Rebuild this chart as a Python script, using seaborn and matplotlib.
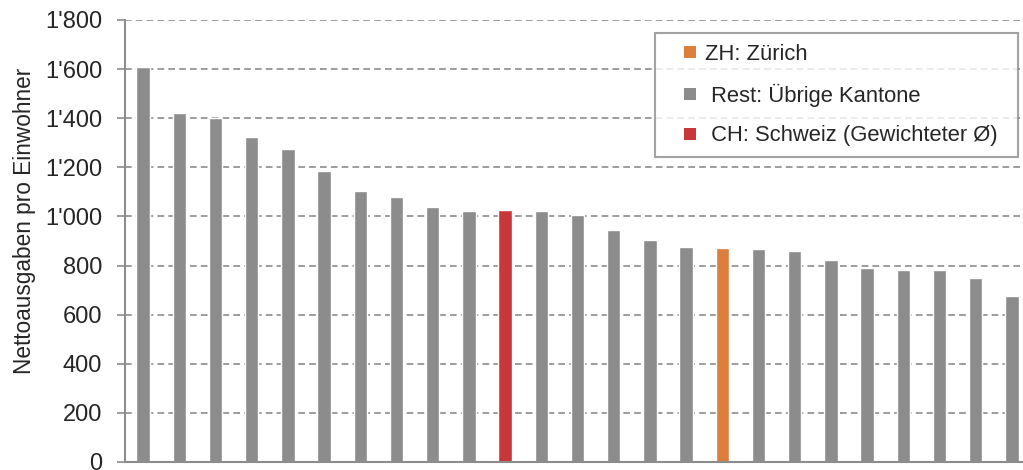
import numpy as np
import pandas as pd
import matplotlib
matplotlib.use("Agg")
import matplotlib.pyplot as plt
from matplotlib.lines import Line2D
from matplotlib.ticker import FuncFormatter
import seaborn as sns

sns.set_theme(style="white")
plt.rcParams['font.family'] = ['Liberation Sans', 'DejaVu Sans']

# Nettoausgaben pro Einwohner, sortiert
werte = [1607, 1420, 1402, 1325, 1275, 1186, 1105, 1080, 1040, 1023,
         1026, 1023, 1007, 944, 903, 877, 870, 869, 861, 821,
         789, 781, 780, 748, 676]
gruppe = ['Rest'] * 10 + ['CH'] + ['Rest'] * 5 + ['ZH'] + ['Rest'] * 8
farben = {'ZH': '#dc7e3c', 'Rest': '#8c8c8c', 'CH': '#c8373a'}
labels = {'ZH': 'ZH: Zürich', 'Rest': ' Rest: Übrige Kantone', 'CH': ' CH: Schweiz (Gewichteter Ø)'}

df = pd.DataFrame({'pos': range(len(werte)), 'wert': werte, 'gruppe': gruppe})

fig = plt.figure(figsize=(10.23, 4.70), dpi=100)
ax = fig.add_axes([125 / 1023, 8 / 470, 905 / 1023, 442 / 470])

sns.barplot(data=df, x='pos', y='wert', hue='gruppe', palette=farben,
            dodge=False, width=0.37, legend=False, ax=ax, saturation=1)

ax.set_ylim(0, 1800)
ax.set_xlim(-0.5, len(werte) - 0.5)
ax.set_yticks(range(0, 1801, 200))
ax.yaxis.set_major_formatter(FuncFormatter(lambda v, p: f"{int(v):,}".replace(",", "'")))
ax.set_xticks([])
ax.set_xlabel('')
ax.set_ylabel('Nettoausgaben pro Einwohner', fontsize=16.3)
ax.yaxis.set_label_coords(-0.098, 0.545)
ax.tick_params(axis='y', labelsize=17, length=6, width=1.2, color='#8c8c8c', left=True, pad=10.5)

ax.yaxis.grid(True, linestyle=(0, (4, 2.5)), color='#8c8c8c', linewidth=1.2)
ax.set_axisbelow(True)
for s in ['top', 'right']:
    ax.spines[s].set_visible(False)
for s in ['left', 'bottom']:
    ax.spines[s].set_color('#8c8c8c')
    ax.spines[s].set_linewidth(1.5)

handles = [Line2D([], [], linestyle='none', marker='s', markersize=8.6, markeredgewidth=0,
                  markerfacecolor=farben[k], label=labels[k]) for k in ['ZH', 'Rest', 'CH']]
leg = fig.legend(handles=handles, loc='upper left', mode='expand',
                 bbox_to_anchor=(655 / 1023, 1 - 155 / 470, 363 / 1023, 122 / 470),
                 fontsize=15.8, frameon=True, fancybox=False, handlelength=2.2,
                 handletextpad=-0.4, labelspacing=0.85, borderpad=0.5, borderaxespad=0)
leg.get_frame().set_edgecolor('#8c8c8c')
leg.get_frame().set_linewidth(1.5)

fig.savefig("out.png", dpi=100)
